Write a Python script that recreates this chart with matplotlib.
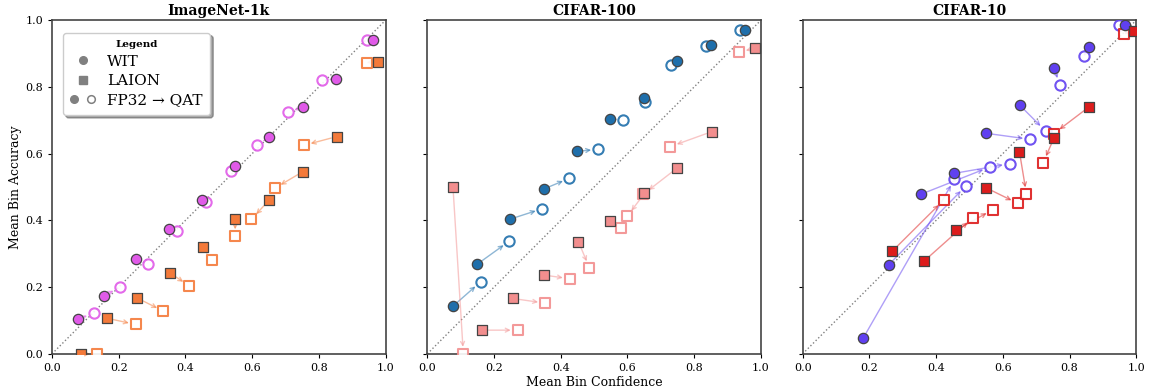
"""Reliability diagrams: FP32 -> QAT calibration shift, WIT vs LAION."""

import matplotlib

matplotlib.use("Agg")
import matplotlib.pyplot as plt
from matplotlib.lines import Line2D
from matplotlib.legend_handler import HandlerTuple

# ---- data (mean bin confidence / mean bin accuracy) ----
DATASETS = ["ImageNet-1k", "CIFAR-100", "CIFAR-10"]

# ImageNet-1k
in_wit_fp32_conf = [0.078, 0.155, 0.251, 0.351, 0.450, 0.548, 0.650, 0.751, 0.851, 0.961]
in_wit_fp32_acc = [0.104, 0.174, 0.283, 0.375, 0.461, 0.564, 0.649, 0.739, 0.824, 0.942]
in_wit_qat_conf = [0.125, 0.203, 0.287, 0.375, 0.462, 0.537, 0.616, 0.706, 0.810, 0.945]
in_wit_qat_acc = [0.122, 0.199, 0.269, 0.369, 0.456, 0.549, 0.626, 0.724, 0.820, 0.942]
in_laion_fp32_conf = [0.088, 0.164, 0.256, 0.353, 0.452, 0.549, 0.650, 0.752, 0.853, 0.976]
in_laion_fp32_acc = [0.000, 0.107, 0.167, 0.243, 0.320, 0.403, 0.460, 0.546, 0.651, 0.876]
in_laion_qat_conf = [0.135, 0.251, 0.334, 0.411, 0.479, 0.549, 0.598, 0.667, 0.755, 0.943]
in_laion_qat_acc = [0.000, 0.088, 0.128, 0.204, 0.282, 0.352, 0.403, 0.496, 0.625, 0.873]

# CIFAR-100
c100_wit_fp32_conf = [0.077, 0.150, 0.249, 0.349, 0.450, 0.548, 0.651, 0.749, 0.851, 0.951]
c100_wit_fp32_acc = [0.143, 0.269, 0.404, 0.494, 0.607, 0.704, 0.766, 0.879, 0.927, 0.970]
c100_wit_qat_conf = [0.160, 0.246, 0.345, 0.426, 0.512, 0.588, 0.653, 0.730, 0.835, 0.936]
c100_wit_qat_acc = [0.216, 0.338, 0.435, 0.526, 0.613, 0.701, 0.754, 0.866, 0.922, 0.970]
c100_laion_fp32_conf = [0.077, 0.165, 0.256, 0.351, 0.453, 0.548, 0.651, 0.749, 0.853, 0.982]
c100_laion_fp32_acc = [0.499, 0.071, 0.166, 0.236, 0.336, 0.398, 0.481, 0.557, 0.666, 0.916]
c100_laion_qat_conf = [0.108, 0.271, 0.353, 0.427, 0.486, 0.581, 0.599, 0.647, 0.728, 0.934]
c100_laion_qat_acc = [0.000, 0.071, 0.152, 0.225, 0.258, 0.376, 0.412, 0.478, 0.621, 0.904]

# CIFAR-10
c10_wit_fp32_conf = [0.182, 0.258, 0.354, 0.455, 0.550, 0.651, 0.754, 0.858, 0.966]
c10_wit_fp32_acc = [0.048, 0.267, 0.478, 0.541, 0.661, 0.745, 0.858, 0.921, 0.987]
c10_wit_qat_conf = [0.455, 0.489, 0.561, 0.621, 0.682, 0.728, 0.770, 0.843, 0.948]
c10_wit_qat_acc = [0.523, 0.503, 0.560, 0.570, 0.643, 0.668, 0.806, 0.892, 0.985]
c10_laion_fp32_conf = [0.268, 0.364, 0.460, 0.549, 0.650, 0.753, 0.857, 0.992]
c10_laion_fp32_acc = [0.307, 0.278, 0.371, 0.498, 0.605, 0.646, 0.739, 0.968]
c10_laion_qat_conf = [0.423, 0.510, 0.570, 0.645, 0.671, 0.721, 0.753, 0.963]
c10_laion_qat_acc = [0.461, 0.408, 0.432, 0.451, 0.478, 0.573, 0.660, 0.960]

PANELS = [
    {
        "wit": (in_wit_fp32_conf, in_wit_fp32_acc, in_wit_qat_conf, in_wit_qat_acc),
        "laion": (in_laion_fp32_conf, in_laion_fp32_acc, in_laion_qat_conf, in_laion_qat_acc),
        "colors": ("#e05ae8", "#f47a3a"),
    },
    {
        "wit": (c100_wit_fp32_conf, c100_wit_fp32_acc, c100_wit_qat_conf, c100_wit_qat_acc),
        "laion": (c100_laion_fp32_conf, c100_laion_fp32_acc, c100_laion_qat_conf, c100_laion_qat_acc),
        "colors": ("#1f6fab", "#f28e8e"),
    },
    {
        "wit": (c10_wit_fp32_conf, c10_wit_fp32_acc, c10_wit_qat_conf, c10_wit_qat_acc),
        "laion": (c10_laion_fp32_conf, c10_laion_fp32_acc, c10_laion_qat_conf, c10_laion_qat_acc),
        "colors": ("#6040f0", "#dd1c1c"),
    },
]

plt.rcParams["font.family"] = "DejaVu Serif"


def draw_group(ax, data, color, marker):
    fx, fy, qx, qy = data
    for x0, y0, x1, y1 in zip(fx, fy, qx, qy):
        ax.annotate(
            "",
            xy=(x1, y1),
            xytext=(x0, y0),
            arrowprops=dict(
                arrowstyle="->", color=color, alpha=0.5, lw=1.0,
                shrinkA=4, shrinkB=5, mutation_scale=7,
            ),
            zorder=2,
        )
    ax.scatter(qx, qy, s=55, marker=marker, facecolor="white",
               edgecolor=color, linewidth=1.5, alpha=0.9, zorder=3)
    ax.scatter(fx, fy, s=55, marker=marker, facecolor=color,
               edgecolor="#444444", linewidth=0.9, zorder=4)


fig, axes = plt.subplots(1, 3, figsize=(11.63, 3.88), dpi=100, sharey=True)
fig.subplots_adjust(left=0.0447, right=0.977, bottom=0.088, top=0.948, wspace=0.125)

for ax, name, panel in zip(axes, DATASETS, PANELS):
    ax.plot([0, 1], [0, 1], ls=":", color="gray", lw=1.0, zorder=1)
    draw_group(ax, panel["wit"], panel["colors"][0], "o")
    draw_group(ax, panel["laion"], panel["colors"][1], "s")
    ax.set_xlim(0, 1)
    ax.set_ylim(0, 1)
    ax.set_title(name, fontsize=10, fontweight="bold", pad=4)
    ax.tick_params(labelsize=8, length=3)
    for sp in ax.spines.values():
        sp.set_color("#444444")
        sp.set_linewidth(1.2)

axes[0].set_ylabel("Mean Bin Accuracy", fontsize=9)
axes[0].yaxis.set_label_coords(-0.09, 0.5)
axes[1].set_xlabel("Mean Bin Confidence", fontsize=9, labelpad=2)

grey = "#808080"
h_wit = Line2D([], [], marker="o", ls="", color=grey, markersize=5.5)
h_laion = Line2D([], [], marker="s", ls="", color=grey, markersize=5.5)
h_fp = Line2D([], [], marker="o", ls="", color=grey, markersize=5.5)
h_qat = Line2D([], [], marker="o", ls="", markerfacecolor="white",
               markeredgecolor=grey, markeredgewidth=1.1, markersize=5.5)
leg = axes[0].legend(
    [h_wit, h_laion, (h_fp, h_qat)],
    ["WIT", "LAION", "FP32 \u2192 QAT"],
    handler_map={tuple: HandlerTuple(ndivide=None, pad=0.6)},
    loc="upper left",
    bbox_to_anchor=(0.01, 0.985),
    title="Legend",
    title_fontproperties={"weight": "bold", "size": 7.5},
    fontsize=11,
    shadow=True,
    fancybox=True,
    handlelength=1.6,
    handletextpad=0.8,
    labelspacing=0.35,
    borderpad=0.5,
)
leg.get_frame().set_edgecolor("#cccccc")

fig.savefig("out.png", dpi=100)
